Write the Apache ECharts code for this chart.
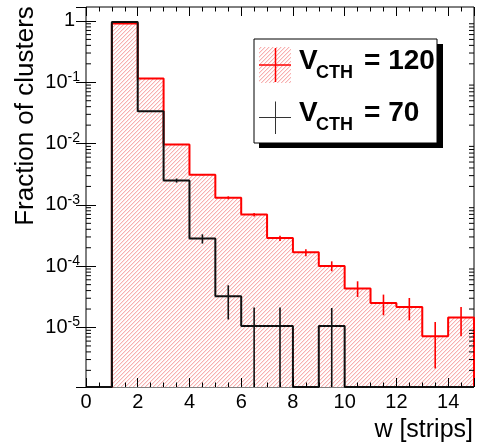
<!DOCTYPE html>
<html><head><meta charset="utf-8">
<script src="https://cdn.jsdelivr.net/npm/echarts@6/dist/echarts.min.js"></script>
<style>html,body{margin:0;padding:0;background:#fff}#c{width:487px;height:446px}</style>
</head><body><div id="c"></div>
<script>
// ---- data (bin lower edges, bin width 1) ----
const binLow = [0,1,2,3,4,5,6,7,8,9,10,11,12,13,14];
const BIN_W = 1;
const vcth120      = [0, 0.907, 0.115, 9.63e-3, 3.10e-3, 1.31e-3, 6.95e-4, 2.88e-4, 1.69e-4, 1.01e-4, 4.31e-5, 2.51e-5, 2.16e-5, 7.18e-6, 1.45e-5];
const vcth120ErrLo = [0, 0.900, 0.113, 9.45e-3, 3.02e-3, 1.23e-3, 6.44e-4, 2.58e-4, 1.45e-4, 8.26e-5, 3.15e-5, 1.58e-5, 1.31e-5, 2.14e-6, 7.18e-6];
const vcth120ErrHi = [0, 0.915, 0.117, 9.80e-3, 3.18e-3, 1.38e-3, 7.38e-4, 3.15e-4, 1.89e-4, 1.20e-4, 5.67e-5, 3.44e-5, 3.03e-5, 1.23e-5, 2.16e-5];
const vcth70       = [0, 0.963, 0.0336, 2.49e-3, 2.82e-4, 3.23e-5, 1.06e-5, 1.06e-5, 0, 1.06e-5, 0, 0, 0, 0, 0];
const vcth70ErrLo  = [0, 0.955, 0.0330, 2.31e-3, 2.34e-4, 1.35e-5, 0, 0, 0, 0, 0, 0, 0, 0, 0];
const vcth70ErrHi  = [0, 0.970, 0.0342, 2.69e-3, 3.31e-4, 4.88e-5, 2.11e-5, 2.11e-5, 0, 2.08e-5, 0, 0, 0, 0, 0];
const legendLabels = ['= 120', '= 70'];
const X_MIN = 0, X_MAX = 15, X_INTERVAL = 2;
const Y_MIN = 1.07e-6, Y_MAX = 1.69;

// ---- helpers ----
function stepData(vals){
  const pts = [[binLow[0], Y_MIN]];
  vals.forEach((v,i)=>pts.push([binLow[i], Math.max(v, Y_MIN)]));
  const last = binLow[binLow.length-1] + BIN_W;
  pts.push([last, Math.max(vals[vals.length-1], Y_MIN)]);
  pts.push([last, Y_MIN]);
  return pts;
}
function errData(vals, lo, hi){
  const out = [];
  vals.forEach((v,i)=>{ if (v > 0) out.push([binLow[i] + BIN_W/2, Math.max(lo[i], Y_MIN), hi[i]]); });
  return out;
}
const minorY = [];
for (let d = -7; d <= 0; d++) for (let k = 2; k <= 9; k++) { const v = k*Math.pow(10,d); if (v > Y_MIN && v < Y_MAX) minorY.push([v]); }

// hatch pattern (opaque pixels)
const pat = document.createElement('canvas');
pat.width = 4; pat.height = 4;
const pc = pat.getContext('2d');
pc.fillStyle = '#ffffff';
pc.fillRect(0, 0, 4, 4);
pc.fillStyle = '#f7b0b0';
for (let i = 0; i < 4; i++) pc.fillRect(i, 3 - i, 1, 1);
pc.fillStyle = '#fde4e4';
for (let i = 0; i < 4; i++) pc.fillRect((i + 1) % 4, 3 - i, 1, 1);
const hatch = { image: pat, repeat: 'repeat' };

function errRender(color){
  return function(params, api){
    const p1 = api.coord([api.value(0), api.value(1)]);
    const p2 = api.coord([api.value(0), api.value(2)]);
    return { type:'line', shape:{x1:p1[0], y1:p1[1], x2:p2[0], y2:p2[1]}, style:{stroke:color, lineWidth:1.6} };
  };
}

const FONT = 'Liberation Sans, Arial, Helvetica, sans-serif';
const chart = echarts.init(document.getElementById('c'), null, {renderer:'canvas'});
const xCommon = {
  type:'value', min:X_MIN, max:X_MAX, interval:X_INTERVAL, z:10,
  axisLine:{show:false}, splitLine:{show:false},
  axisTick:{show:true, inside:true, length:9, lineStyle:{color:'#000', width:1}},
  minorTick:{show:true, splitNumber:4, length:4.5, lineStyle:{color:'#000', width:1}},
};
const yCommon = {
  type:'log', logBase:10, min:Y_MIN, max:Y_MAX, z:10,
  axisLine:{show:false}, splitLine:{show:false}, minorTick:{show:false},
  axisTick:{show:true, inside:true, length:10, lineStyle:{color:'#000', width:1}},
};
const option = {
  animation:false,
  backgroundColor:'#fff',
  grid:{left:86, right:13, top:7, bottom:59, show:true, borderColor:'#000', borderWidth:1, containLabel:false, outerBoundsMode:'none'},
  xAxis:[
    Object.assign({}, xCommon, {position:'bottom',
      axisLabel:{show:true, fontSize:20, color:'#000', fontFamily:FONT, margin:5, showMaxLabel:false}}),
    Object.assign({}, xCommon, {position:'top', axisLabel:{show:false}})
  ],
  yAxis:[
    Object.assign({}, yCommon, {position:'left',
      axisLabel:{show:true, margin:6, showMinLabel:false, showMaxLabel:false, color:'#000', fontFamily:FONT,
        formatter:function(v){ const e = Math.round(Math.log10(v)); if (e === 0) return '{one|1}'; return '{b|10}{s|' + e + '}'; },
        rich:{ b:{fontSize:20, fontFamily:FONT, color:'#000'}, s:{fontSize:14, fontFamily:FONT, color:'#000', padding:[0,0,10,0]}, one:{fontSize:20, fontFamily:FONT, color:'#000', padding:[0,5,0,0]} }}}),
    Object.assign({}, yCommon, {position:'right', axisLabel:{show:false}})
  ],
  series:[
    { name:'V120', type:'line', xAxisIndex:0, yAxisIndex:0, step:'end', showSymbol:false, symbol:'none',
      data: stepData(vcth120), lineStyle:{color:'#ff0000', width:2},
      areaStyle:{origin:'start', color:hatch, opacity:1}, z:2 },
    { name:'V70', type:'line', xAxisIndex:0, yAxisIndex:0, step:'end', showSymbol:false, symbol:'none',
      data: stepData(vcth70), lineStyle:{color:'#111', width:2}, z:3 },
    { name:'V120err', type:'custom', xAxisIndex:0, yAxisIndex:0, data: errData(vcth120, vcth120ErrLo, vcth120ErrHi),
      encode:{x:0, y:[1,2]}, renderItem: errRender('#ff0000'), clip:true, z:4 },
    { name:'V70err', type:'custom', xAxisIndex:0, yAxisIndex:0, data: errData(vcth70, vcth70ErrLo, vcth70ErrHi),
      encode:{x:0, y:[1,2]}, renderItem: errRender('#111'), clip:true, z:5 },
    { name:'yMinor', type:'custom', xAxisIndex:0, yAxisIndex:0, data: minorY, encode:{y:0}, z:11, silent:true,
      renderItem:function(params, api){
        const v = api.value(0);
        const l = api.coord([X_MIN, v]), r = api.coord([X_MAX, v]);
        return {type:'group', children:[
          {type:'line', shape:{x1:l[0], y1:l[1], x2:l[0]+5, y2:l[1]}, style:{stroke:'#000', lineWidth:1}},
          {type:'line', shape:{x1:r[0], y1:r[1], x2:r[0]-5, y2:r[1]}, style:{stroke:'#000', lineWidth:1}}
        ]};
      }}
  ],
  graphic:[
    {type:'text', x:26, y:116, rotation:Math.PI/2, style:{text:'Fraction of clusters', fontSize:26, fontFamily:FONT, fill:'#000', align:'center', verticalAlign:'middle'}},
    {type:'text', x:473, y:430, style:{text:'w [strips]', fontSize:25, fontFamily:FONT, fill:'#000', align:'right', verticalAlign:'middle'}},
    // legend
    {type:'rect', shape:{x:259, y:44, width:184, height:104}, style:{fill:'#000'}, z:20},
    {type:'rect', shape:{x:254, y:39, width:183, height:104}, style:{fill:'#fff', stroke:'#000', lineWidth:1}, z:21},
    {type:'rect', shape:{x:259, y:47, width:32, height:36}, style:{fill:hatch}, z:22},
    {type:'line', shape:{x1:259, y1:65, x2:291, y2:65}, style:{stroke:'#ff0000', lineWidth:1.5}, z:23},
    {type:'line', shape:{x1:275.5, y1:48, x2:275.5, y2:82}, style:{stroke:'#ff0000', lineWidth:1.5}, z:23},
    {type:'line', shape:{x1:259, y1:117.5, x2:291, y2:117.5}, style:{stroke:'#333', lineWidth:1}, z:23},
    {type:'line', shape:{x1:275.5, y1:101.5, x2:275.5, y2:134}, style:{stroke:'#333', lineWidth:1}, z:23},
    {type:'text', x:299, y:61.7, style:{text:'V', fontSize:28, fontWeight:'bold', fontFamily:FONT, fill:'#000', align:'left', verticalAlign:'middle'}, z:23},
    {type:'text', x:316, y:72.6, style:{text:'CTH', fontSize:18, fontWeight:'bold', fontFamily:FONT, fill:'#000', align:'left', verticalAlign:'middle'}, z:23},
    {type:'text', x:364, y:61.7, style:{text:legendLabels[0], fontSize:28, fontWeight:'bold', fontFamily:FONT, fill:'#000', align:'left', verticalAlign:'middle'}, z:23},
    {type:'text', x:299, y:113.3, style:{text:'V', fontSize:28, fontWeight:'bold', fontFamily:FONT, fill:'#000', align:'left', verticalAlign:'middle'}, z:23},
    {type:'text', x:316, y:124.6, style:{text:'CTH', fontSize:18, fontWeight:'bold', fontFamily:FONT, fill:'#000', align:'left', verticalAlign:'middle'}, z:23},
    {type:'text', x:364, y:113.3, style:{text:legendLabels[1], fontSize:28, fontWeight:'bold', fontFamily:FONT, fill:'#000', align:'left', verticalAlign:'middle'}, z:23}
  ]
};
chart.setOption(option);
</script>
</body></html>
